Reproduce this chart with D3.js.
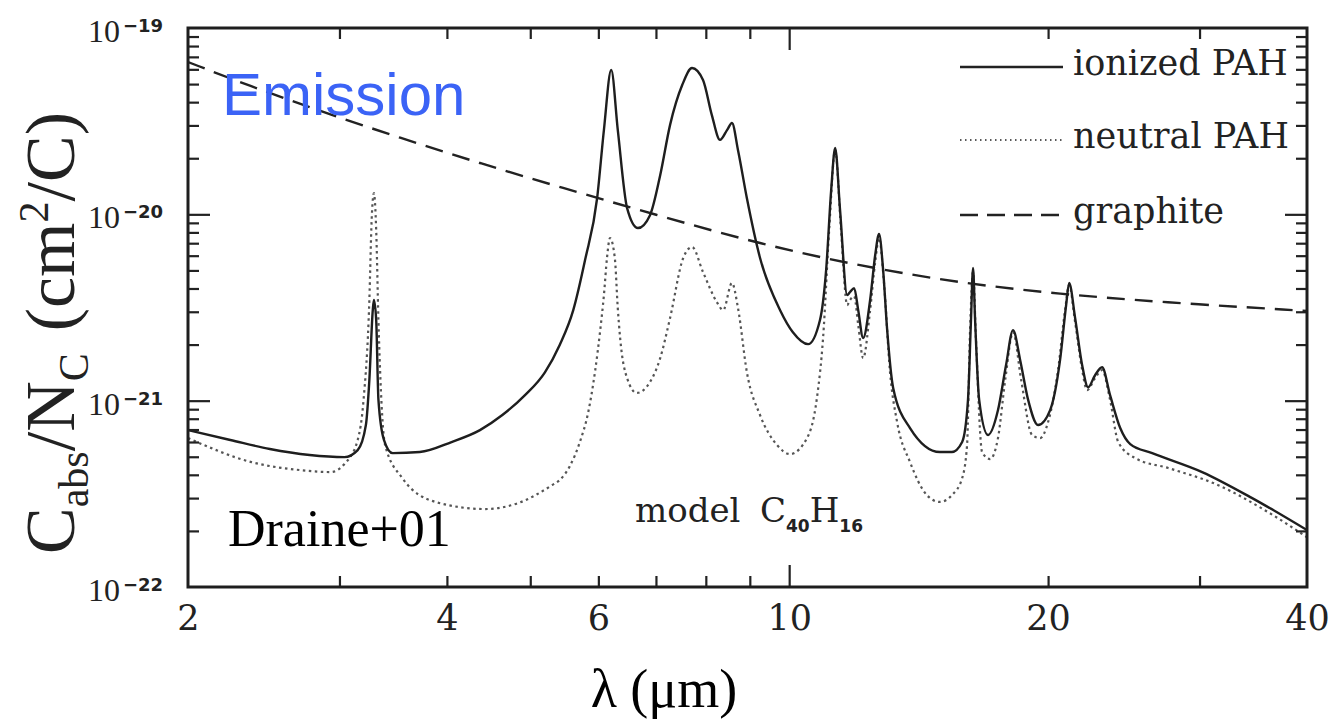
<!DOCTYPE html>
<html>
<head>
<meta charset="utf-8">
<script src="https://cdn.jsdelivr.net/npm/d3@7"></script>
<style>
  body { margin: 0; background: #fff; }
</style>
</head>
<body>
<div class="graph"></div>
<script>
// wavelengths in micron, C_abs/N_C in cm^2/C
const ionizedWave = [2.00, 2.24, 2.49, 2.77, 3.04, 3.15, 3.22, 3.25, 3.28, 3.29,
    3.31, 3.33, 3.38, 3.46, 3.72, 4.05, 4.37, 4.64, 4.93, 5.20,
    5.41, 5.61, 5.79, 5.98, 6.09, 6.21, 6.32, 6.48, 6.67, 6.89,
    7.08, 7.27, 7.51, 7.71, 7.94, 8.13, 8.31, 8.47, 8.58, 8.72,
    8.93, 9.25, 9.76, 10.10, 10.52, 10.86, 11.04, 11.19, 11.31, 11.46,
    11.68, 11.77, 11.90, 12.03, 12.19, 12.42, 12.59, 12.72, 12.86, 13.00,
    13.21, 13.82, 14.97, 15.46, 15.89, 16.14, 16.27, 16.36, 16.45, 16.63,
    17.03, 17.49, 17.87, 18.21, 18.56, 18.96, 19.47, 20.11, 20.65, 20.99,
    21.16, 21.50, 21.91, 22.26, 22.68, 23.11, 23.61, 24.26, 24.92, 26.43,
    30.21, 34.54, 40.0];
const ionizedValue = [6.95e-22, 6.15e-22, 5.50e-22, 5.11e-22, 4.98e-22, 5.43e-22, 7.40e-22, 1.29e-21, 3.06e-21, 3.47e-21,
    2.71e-21, 1.01e-21, 6.15e-22, 5.23e-22, 5.30e-22, 6.00e-22, 6.95e-22, 8.37e-22, 1.07e-21, 1.42e-21,
    1.99e-21, 3.06e-21, 5.68e-21, 1.22e-20, 2.84e-20, 5.95e-20, 2.84e-20, 1.08e-20, 8.44e-21, 9.9e-21,
    1.62e-20, 3.02e-20, 4.94e-20, 6.10e-20, 5.26e-20, 3.41e-20, 2.51e-20, 2.84e-20, 3.09e-20, 2.21e-20,
    1.22e-20, 5.83e-21, 3.06e-21, 2.33e-21, 2.01e-21, 2.71e-21, 5.02e-21, 1.35e-20, 2.27e-20, 1.05e-20,
    3.69e-21, 3.83e-21, 4.02e-21, 3.06e-21, 2.17e-21, 3.47e-21, 6.05e-21, 7.84e-21, 5.02e-21, 2.39e-21,
    1.17e-21, 7.13e-22, 5.30e-22, 5.30e-22, 6.00e-22, 1.01e-21, 2.71e-21, 5.15e-21, 2.71e-21, 1.01e-21,
    6.54e-22, 8.90e-22, 1.55e-21, 2.39e-21, 1.65e-21, 1.01e-21, 7.40e-22, 8.90e-22, 1.65e-21, 3.26e-21,
    4.28e-21, 2.78e-21, 1.55e-21, 1.18e-21, 1.37e-21, 1.51e-21, 1.07e-21, 7.13e-22, 5.85e-22, 5.23e-22,
    4.14e-22, 3.00e-22, 2.02e-22];

const neutralWave = [2.00, 2.37, 2.70, 2.93, 3.04, 3.15, 3.20, 3.25, 3.27, 3.29,
    3.31, 3.33, 3.39, 3.55, 3.88, 4.43, 4.84, 5.30, 5.41, 5.56,
    5.71, 5.84, 5.95, 6.03, 6.09, 6.14, 6.19, 6.27, 6.32, 6.36,
    6.48, 6.65, 6.89, 7.08, 7.27, 7.53, 7.71, 7.94, 8.24, 8.38,
    8.58, 8.72, 8.93, 9.25, 9.68, 10.02, 10.49, 10.77, 10.95, 11.13,
    11.31, 11.49, 11.68, 11.77, 11.90, 12.03, 12.19, 12.42, 12.59, 12.72,
    12.89, 13.10, 13.35, 13.82, 14.46, 14.97, 15.46, 15.89, 16.10, 16.23,
    16.36, 16.49, 16.76, 17.12, 17.49, 17.83, 18.21, 18.61, 19.16, 19.58,
    20.00, 20.54, 20.93, 21.16, 21.50, 21.91, 22.20, 22.68, 23.11, 23.61,
    24.13, 25.25, 27.59, 31.54, 36.05, 40.0];
const neutralValue = [6.30e-22, 4.68e-22, 4.24e-22, 4.14e-22, 4.57e-22, 6.15e-22, 1.01e-21, 3.47e-21, 9.32e-21, 1.30e-20,
    8.24e-21, 2.71e-21, 5.78e-22, 3.84e-22, 2.86e-22, 2.62e-22, 2.82e-22, 3.52e-22, 3.75e-22, 4.46e-22,
    6.00e-22, 8.69e-22, 1.46e-21, 2.39e-21, 3.69e-21, 5.83e-21, 7.46e-21, 5.83e-21, 3.14e-21, 2.17e-21,
    1.32e-21, 1.10e-21, 1.26e-21, 1.69e-21, 2.78e-21, 5.83e-21, 6.68e-21, 4.90e-21, 3.38e-21, 3.06e-21,
    4.28e-21, 3.14e-21, 1.42e-21, 8.37e-22, 5.78e-22, 5.17e-22, 6.30e-22, 1.03e-21, 2.17e-21, 8.24e-21,
    2.21e-20, 8.24e-21, 3.26e-21, 3.47e-21, 3.64e-21, 2.55e-21, 1.69e-21, 3.06e-21, 5.55e-21, 7.46e-21,
    4.28e-21, 1.42e-21, 7.68e-22, 4.68e-22, 3.11e-22, 2.86e-22, 3.11e-22, 3.84e-22, 5.78e-22, 2.39e-21,
    4.90e-21, 2.11e-21, 5.30e-22, 4.86e-22, 6.30e-22, 1.29e-21, 2.33e-21, 1.29e-21, 6.54e-22, 6.30e-22,
    7.68e-22, 1.46e-21, 3.06e-21, 4.17e-21, 2.64e-21, 1.46e-21, 1.14e-21, 1.32e-21, 1.46e-21, 1.01e-21,
    6.00e-22, 4.92e-22, 4.35e-22, 3.52e-22, 2.52e-22, 1.85e-22];

const graphiteWave = [2.00, 2.36, 2.85, 3.53, 4.37, 5.41, 7.08, 9.25, 12.09, 15.80, 20.65, 27.00, 40.0];
const graphiteValue = [6.57e-20, 4.88e-20, 3.58e-20, 2.57e-20, 1.88e-20, 1.40e-20, 9.79e-21,
    6.93e-21, 5.28e-21, 4.28e-21, 3.73e-21, 3.38e-21, 3.03e-21];

const xLabelTicks = [2, 4, 6, 10, 20, 40];
const xMinorTicks = [3, 4, 5, 6, 7, 8, 9, 20, 30];
const xMajorTicks = [10];
const yLabelTicks = [1e-22, 1e-21, 1e-20, 1e-19];
const yExponents = ['\u221222', '\u221221', '\u221220', '\u221219'];
const yMajorTicks = [1e-21, 1e-20];
const yMinorTicks = [];
[-22, -21, -20].forEach(n => d3.range(2, 10).forEach(k => yMinorTicks.push(k * Math.pow(10, n))));
const legendLabels = ['ionized PAH', 'neutral PAH', 'graphite'];

const svg = d3.select('.graph')
    .append('svg')
    .attr('width', 1334)
    .attr('height', 720);
const margin = {top: 28, left: 188, right: 27, bottom: 133};
const width = 1334 - margin.left - margin.right;
const height = 720 - margin.top - margin.bottom;
const chart = svg.append('g')
    .attr('transform', `translate(${margin.left},${margin.top})`);

const xScale = d3.scaleLog().domain([2, 40]).range([0, width]);
const yScale = d3.scaleLog().domain([1e-22, 1e-19]).range([height, 0]);

chart.append('clipPath').attr('id', 'clip')
    .append('rect').attr('width', width).attr('height', height);

function series(wave, value) {
    return wave.map((w, i) => ({w: w, v: value[i]}));
}
const line = d3.line()
    .x(d => xScale(d.w))
    .y(d => yScale(d.v))
    .curve(d3.curveMonotoneX);

const curves = chart.append('g').attr('clip-path', 'url(#clip)');
curves.append('path')
    .datum(series(graphiteWave, graphiteValue))
    .attr('d', line.curve(d3.curveBasis))
    .attr('fill', 'none')
    .attr('stroke', '#222')
    .attr('stroke-width', 2.4)
    .attr('stroke-dasharray', '18,10');
line.curve(d3.curveMonotoneX);
curves.append('path')
    .datum(series(neutralWave, neutralValue))
    .attr('d', line)
    .attr('fill', 'none')
    .attr('stroke', '#555')
    .attr('stroke-width', 2.2)
    .attr('stroke-dasharray', '2.5,3.5');
curves.append('path')
    .datum(series(ionizedWave, ionizedValue))
    .attr('d', line)
    .attr('fill', 'none')
    .attr('stroke', '#1e1e1e')
    .attr('stroke-width', 2.4);

// inward ticks on all four sides
function ticks(axis, values, size, transform) {
    const g = chart.append('g')
        .attr('transform', transform)
        .call(axis.tickValues(values).tickSize(-size).tickFormat(''));
    g.select('.domain').remove();
    g.selectAll('line').attr('stroke', '#222').attr('stroke-width', 2.2);
}
ticks(d3.axisBottom(xScale), xMinorTicks, 11, `translate(0,${height})`);
ticks(d3.axisBottom(xScale), xMajorTicks, 22, `translate(0,${height})`);
ticks(d3.axisTop(xScale), xMinorTicks, 11, 'translate(0,0)');
ticks(d3.axisTop(xScale), xMajorTicks, 22, 'translate(0,0)');
ticks(d3.axisLeft(yScale), yMinorTicks, 11, 'translate(0,0)');
ticks(d3.axisLeft(yScale), yMajorTicks, 22, 'translate(0,0)');
ticks(d3.axisRight(yScale), yMinorTicks, 11, `translate(${width},0)`);
ticks(d3.axisRight(yScale), yMajorTicks, 22, `translate(${width},0)`);

chart.append('rect')
    .attr('width', width)
    .attr('height', height)
    .attr('fill', 'none')
    .attr('stroke', '#1e1e1e')
    .attr('stroke-width', 3);

// x tick labels
const xAxis = chart.append('g')
    .attr('transform', `translate(0,${height})`)
    .call(d3.axisBottom(xScale).tickValues(xLabelTicks).tickSize(0).tickPadding(18).tickFormat(d3.format('d')));
xAxis.select('.domain').remove();
xAxis.selectAll('text')
    .attr('fill', '#222')
    .style('font-family', '"DejaVu Serif"')
    .style('font-size', '35px');

// y tick labels 10^n
yLabelTicks.forEach((v, i) => {
    const t = svg.append('text')
        .attr('x', 88)
        .attr('y', margin.top + yScale(v) + 14)
        .attr('fill', '#222')
        .style('font-family', '"Liberation Serif"')
        .style('font-size', '32px');
    t.append('tspan').text('10');
    t.append('tspan')
        .attr('dx', 3)
        .attr('dy', -10)
        .style('font-family', '"DejaVu Sans"')
        .style('font-weight', 'bold')
        .style('font-size', '18px')
        .text(yExponents[i]);
});

// legend
const legendY = [39, 112, 187];
const legendDash = [null, '1.5,3.5', '18,9'];
const legend = chart.append('g');
legendLabels.forEach((label, i) => {
    legend.append('line')
        .attr('x1', 772).attr('x2', 875)
        .attr('y1', legendY[i]).attr('y2', legendY[i])
        .attr('stroke', '#222')
        .attr('stroke-width', i === 1 ? 1.6 : 2.4)
        .attr('stroke-dasharray', legendDash[i]);
    legend.append('text')
        .attr('x', 885)
        .attr('y', legendY[i] + 8)
        .attr('fill', '#222')
        .style('font-family', '"DejaVu Serif"')
        .style('font-size', '35px')
        .text(label);
});

// annotations
svg.append('text')
    .attr('x', 222)
    .attr('y', 115)
    .attr('fill', '#3b63f6')
    .style('font-family', '"Liberation Sans"')
    .style('font-size', '60px')
    .text('Emission');
svg.append('text')
    .attr('x', 228)
    .attr('y', 546)
    .attr('fill', '#000')
    .style('font-family', '"Liberation Serif"')
    .style('font-size', '52px')
    .text('Draine+01');

const model = svg.append('text')
    .attr('x', 635)
    .attr('y', 522)
    .attr('fill', '#222')
    .style('font-family', '"DejaVu Serif"')
    .style('font-size', '34px');
model.append('tspan').text('model');
model.append('tspan').attr('x', 760).text('C');
model.append('tspan').attr('dy', 10)
    .style('font-family', '"DejaVu Sans"').style('font-weight', 'bold').style('font-size', '17px').text('40');
model.append('tspan').attr('dy', -10).text('H');
model.append('tspan').attr('dy', 10)
    .style('font-family', '"DejaVu Sans"').style('font-weight', 'bold').style('font-size', '17px').text('16');

// axis titles
svg.append('text')
    .attr('x', 664)
    .attr('y', 707)
    .attr('fill', '#000')
    .style('font-family', '"Liberation Serif"')
    .style('font-size', '54px')
    .style('text-anchor', 'middle')
    .text('\u03bb (\u03bcm)');

const yTitle = svg.append('text')
    .attr('transform', 'translate(74,333) rotate(-90)')
    .attr('fill', '#222')
    .style('font-family', '"Liberation Serif"')
    .style('font-size', '70px')
    .style('text-anchor', 'middle');
yTitle.append('tspan').text('C');
yTitle.append('tspan').attr('dy', 14).style('font-size', '42px').text('abs');
yTitle.append('tspan').attr('dy', -14).text('/N');
yTitle.append('tspan').attr('dy', 14).style('font-size', '42px').text('C');
yTitle.append('tspan').attr('dy', -14).attr('dx', 22).text('(cm');
yTitle.append('tspan').attr('dy', -26).style('font-size', '42px').text('2');
yTitle.append('tspan').attr('dy', 26).text('/C)');
</script>
</body>
</html>
